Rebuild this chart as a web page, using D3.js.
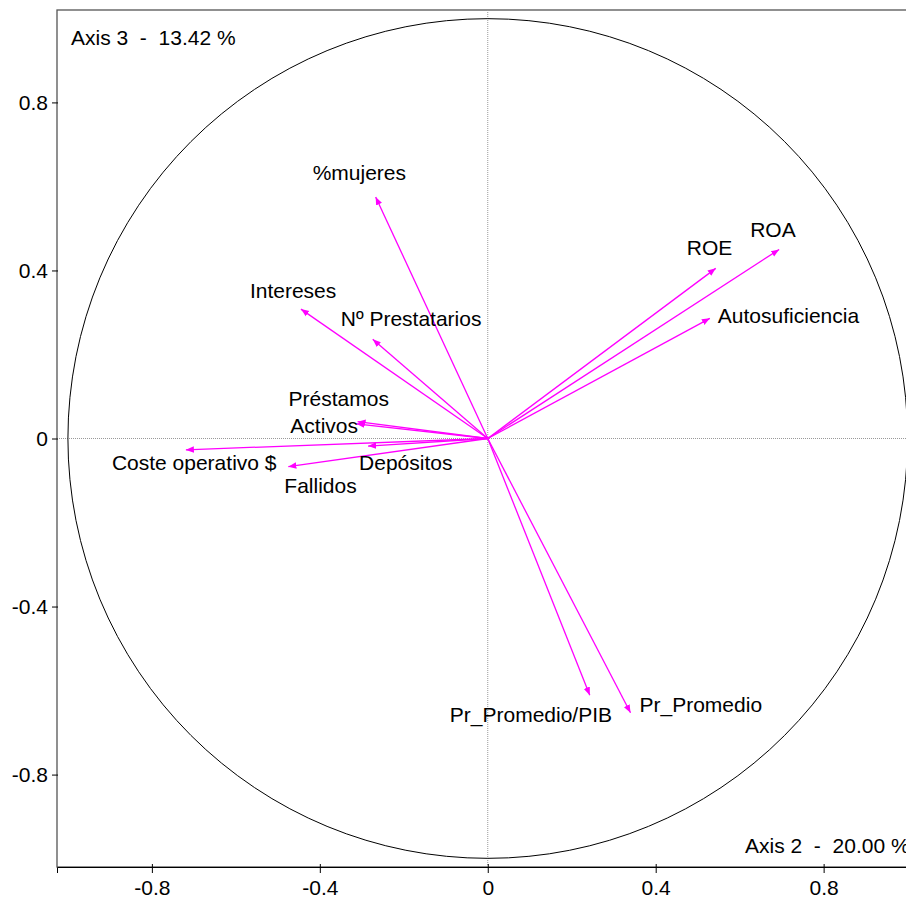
<!DOCTYPE html>
<html>
<head>
<meta charset="utf-8">
<style>
  body { margin: 0; background: #fff; }
  svg text { font-family: "Liberation Sans", Arial, sans-serif; font-size: 21px; fill: #000; }
  .arrow { stroke: #ff00ff; stroke-width: 1.3; fill: none; }
  .guide { stroke: #999; stroke-width: 1; stroke-dasharray: 1,1; }
</style>
</head>
<body>
<svg width="906" height="897"></svg>
<script src="https://d3js.org/d3.v7.min.js"></script>
<script>
// variable coordinates on axis 2 (x) and axis 3 (y)
var variables = ["%mujeres", "Intereses", "Nº Prestatarios", "Préstamos", "Activos",
                 "Coste operativo $", "Depósitos", "Fallidos", "ROE", "ROA",
                 "Autosuficiencia", "Pr_Promedio/PIB", "Pr_Promedio"];
var axis2 = [-0.267, -0.445, -0.274, -0.31, -0.313, -0.719, -0.285, -0.475, 0.543, 0.694, 0.529, 0.243, 0.34];
var axis3 = [0.575, 0.308, 0.236, 0.04, 0.035, -0.027, -0.018, -0.067, 0.405, 0.45, 0.286, -0.611, -0.653];

var tickValues = [-0.8, -0.4, 0, 0.4, 0.8];
var tickLabels = ["-0.8", "-0.4", "0", "0.4", "0.8"];

var xTitle = "Axis 2  -  20.00 %";
var yTitle = "Axis 3  -  13.42 %";

// label nudges (pixels from arrow tip to text start / baseline)
var labelDx = [-63, -51, -32, -69, -66, -74, -9, -4, -29, -29, 8, -140, 9];
var labelDy = [-17, -11, -13, -16, 9, 20, 24, 26, -13, -12, 5, 27, -1];

var margin = {left: 57, top: 10, right: 916, bottom: 867};

var x = d3.scaleLinear().domain([-1.026, 1.02]).range([margin.left, margin.right]);
var y = d3.scaleLinear().domain([-1.02, 1.02]).range([margin.bottom, margin.top]);

var svg = d3.select("svg");

svg.append("defs").append("marker")
    .attr("id", "head")
    .attr("viewBox", "0 0 10 10")
    .attr("refX", 10).attr("refY", 5)
    .attr("markerWidth", 8).attr("markerHeight", 8)
    .attr("markerUnits", "userSpaceOnUse")
    .attr("orient", "auto")
  .append("path")
    .attr("d", "M0,1L10,5L0,9Z")
    .attr("fill", "#ff00ff");

// frame
svg.append("rect")
    .attr("x", margin.left).attr("y", margin.top)
    .attr("width", margin.right - margin.left)
    .attr("height", margin.bottom - margin.top)
    .attr("fill", "none")
    .attr("stroke", "#555")
    .attr("stroke-width", 1.3);

// dotted zero lines
svg.append("line").attr("class", "guide")
    .attr("x1", x(0)).attr("x2", x(0)).attr("y1", margin.top).attr("y2", margin.bottom);
svg.append("line").attr("class", "guide")
    .attr("x1", margin.left).attr("x2", margin.right).attr("y1", y(0)).attr("y2", y(0));

// unit circle
svg.append("circle")
    .attr("cx", x(0)).attr("cy", y(0))
    .attr("r", x(1) - x(0))
    .attr("fill", "none")
    .attr("stroke", "#000")
    .attr("stroke-width", 1);

// axes
var gx = svg.append("g")
    .attr("transform", "translate(0," + margin.bottom + ")")
    .call(d3.axisBottom(x).tickValues(tickValues)
      .tickFormat(function(d, i) { return tickLabels[i]; }).tickSize(6));
gx.select(".domain").attr("stroke", "#000");
gx.selectAll(".tick line").attr("y1", -3).attr("y2", 6).attr("stroke", "#000");
gx.selectAll(".tick text").attr("y", 28).attr("dy", 0).style("font-size", "21px")
    .style("font-family", "Liberation Sans, Arial, sans-serif");

var gy = svg.append("g")
    .attr("transform", "translate(" + margin.left + ",0)")
    .call(d3.axisLeft(y).tickValues(tickValues)
      .tickFormat(function(d, i) { return tickLabels[i]; }).tickSize(5).tickPadding(4));
gy.select(".domain").remove();
gy.selectAll(".tick line").attr("x1", 1).attr("stroke", "#000");
gy.selectAll(".tick text").style("font-size", "21px")
    .style("font-family", "Liberation Sans, Arial, sans-serif");

// axis titles
svg.append("text").attr("x", 71).attr("y", 45).text(yTitle).style("white-space", "pre");
svg.append("text").attr("x", 745).attr("y", 853).text(xTitle).style("white-space", "pre");

// arrows
var idx = d3.range(variables.length);
svg.selectAll("line.arrow")
  .data(idx)
  .enter().append("line")
    .attr("class", "arrow")
    .attr("x1", x(0)).attr("y1", y(0))
    .attr("x2", function(i) { return x(axis2[i]); })
    .attr("y2", function(i) { return y(axis3[i]); })
    .attr("marker-end", "url(#head)");

svg.selectAll("text.var")
  .data(idx)
  .enter().append("text")
    .attr("class", "var")
    .attr("x", function(i) { return x(axis2[i]) + labelDx[i]; })
    .attr("y", function(i) { return y(axis3[i]) + labelDy[i]; })
    .text(function(i) { return variables[i]; });
</script>
</body>
</html>
